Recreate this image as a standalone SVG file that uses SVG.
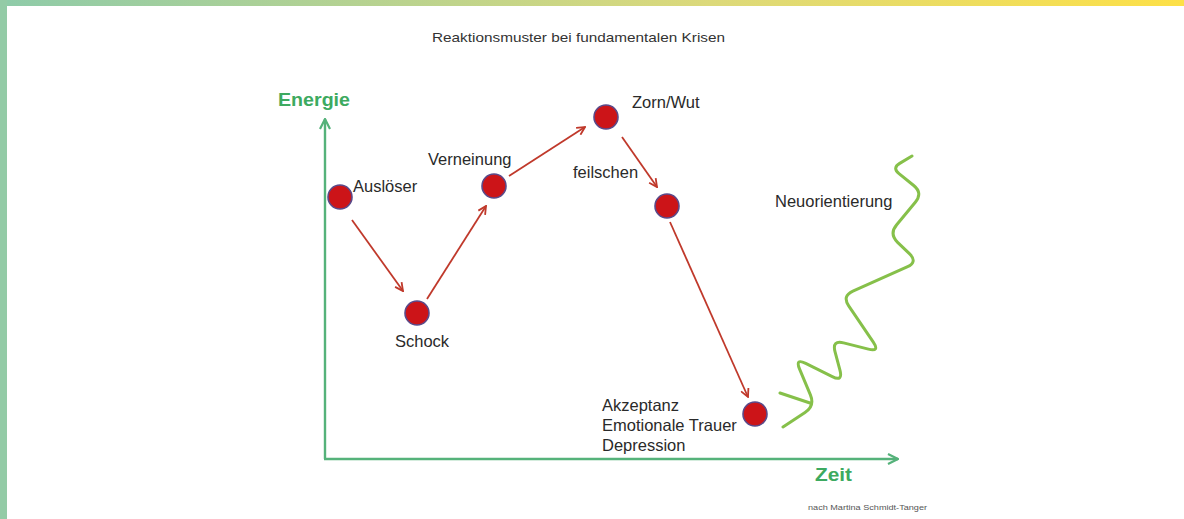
<svg xmlns="http://www.w3.org/2000/svg" width="1184" height="519" viewBox="0 0 1184 519">
<defs>
<linearGradient id="topbar" x1="0" y1="0" x2="1" y2="0">
<stop offset="0" stop-color="#8ecba9"/>
<stop offset="0.6" stop-color="#dcd97a"/>
<stop offset="1" stop-color="#fde047"/>
</linearGradient>
<marker id="redhead" viewBox="0 0 10 10" refX="9" refY="5" markerWidth="10" markerHeight="10" markerUnits="userSpaceOnUse" orient="auto">
<path d="M1,1 L9,5 L1,9" fill="none" stroke="#c0392b" stroke-width="1.8"/>
</marker>
<marker id="greenhead" viewBox="0 0 12 12" refX="11" refY="6" markerWidth="12" markerHeight="12" markerUnits="userSpaceOnUse" orient="auto">
<path d="M1,1 L11,6 L1,11" fill="none" stroke="#55b27a" stroke-width="2.2"/>
</marker>
</defs>
<style>
.lbl{font-family:"Liberation Sans",Arial,sans-serif;font-size:16.5px;fill:#2a2a2a}
.axl{font-family:"Liberation Sans",Arial,sans-serif;font-weight:bold;fill:#3daa60}
.node{fill:#cc1418;stroke:#5a4a8a;stroke-width:1.6}
.conn{stroke:#c0392b;stroke-width:1.8;fill:none;marker-end:url(#redhead)}
.axis{stroke:#55b27a;stroke-width:2.4;fill:none;marker-end:url(#greenhead)}
</style>
<rect x="0" y="0" width="1184" height="519" fill="#ffffff"/>
<rect x="0" y="0" width="1184" height="6" fill="url(#topbar)"/>
<rect x="0" y="0" width="7" height="519" fill="#93cba6"/>

<text x="432" y="42" font-family="'Liberation Sans',Arial,sans-serif" font-size="13.5" fill="#333" textLength="293" lengthAdjust="spacingAndGlyphs">Reaktionsmuster bei fundamentalen Krisen</text>

<g id="axes">
<path class="axis" d="M325,459 L325,119"/>
<path class="axis" d="M324,459 L898,459"/>
<text class="axl" x="278" y="106" font-size="18" textLength="72" lengthAdjust="spacingAndGlyphs">Energie</text>
<text class="axl" x="815" y="481" font-size="19" textLength="37" lengthAdjust="spacingAndGlyphs">Zeit</text>
</g>

<g id="connectors">
<path class="conn" d="M352,220 L403,291"/>
<path class="conn" d="M427,299 L486,206"/>
<path class="conn" d="M509,176 L585,127"/>
<path class="conn" d="M622,137 L657,187"/>
<path class="conn" d="M670,222 L748,397"/>
</g>

<g id="ausloeser">
<circle class="node" cx="340" cy="197" r="12"/>
<text class="lbl" x="353" y="192">Auslöser</text>
</g>
<g id="schock">
<circle class="node" cx="417" cy="313" r="12"/>
<text class="lbl" x="395" y="347">Schock</text>
</g>
<g id="verneinung">
<circle class="node" cx="494" cy="186" r="12"/>
<text class="lbl" x="428" y="165">Verneinung</text>
</g>
<g id="zorn">
<circle class="node" cx="606" cy="117" r="12"/>
<text class="lbl" x="632" y="108">Zorn/Wut</text>
</g>
<g id="feilschen">
<circle class="node" cx="667" cy="206" r="12"/>
<text class="lbl" x="573" y="178">feilschen</text>
</g>
<g id="akzeptanz">
<circle class="node" cx="755" cy="414" r="12"/>
<text class="lbl" x="602" y="411">Akzeptanz</text>
<text class="lbl" x="602" y="431">Emotionale Trauer</text>
<text class="lbl" x="602" y="451">Depression</text>
</g>
<g id="neuorientierung">
<path d="M783,427 L805,412.6 Q815,406 810.4,394.9 L799.6,369.1 Q795,358 805.7,363.4 L832.3,376.6 Q843,382 840,370.4 L835,351.6 Q832,340 843.6,342.9 L868.4,349.1 Q880,352 873.3,342.1 L848.7,305.9 Q842,296 852.9,291.1 L907.1,266.9 Q918,262 909.4,253.7 L897.6,242.3 Q889,234 896.7,224.8 L915.3,202.2 Q923,193 913.7,185.5 L899,173.7 Q892,168 899.7,163.4 L912,156 M780,393 L810,403" fill="none" stroke="#86c04a" stroke-width="3" stroke-linecap="round" stroke-linejoin="round"/>
<text class="lbl" x="775" y="207">Neuorientierung</text>
</g>

<text x="808" y="510" font-family="'Liberation Sans',Arial,sans-serif" font-size="6.5" fill="#555" textLength="119" lengthAdjust="spacingAndGlyphs">nach Martina Schmidt-Tanger</text>
</svg>
